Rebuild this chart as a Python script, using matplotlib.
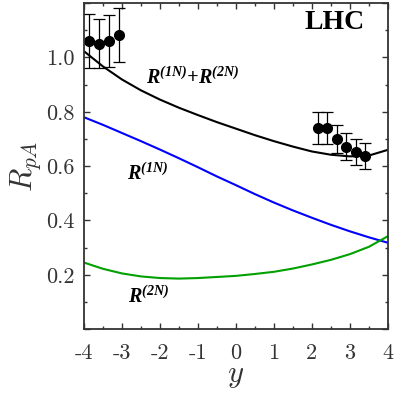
import matplotlib
matplotlib.use("Agg")
import matplotlib.pyplot as plt
from matplotlib.ticker import MultipleLocator, FuncFormatter

plt.rcParams['font.family'] = 'serif'
plt.rcParams['font.serif'] = ['cmr10']
plt.rcParams['mathtext.fontset'] = 'custom'
plt.rcParams['mathtext.rm'] = 'cmr10'
plt.rcParams['mathtext.it'] = 'cmmi10'
plt.rcParams['mathtext.bf'] = 'Liberation Serif:bold:italic'
plt.rcParams['axes.unicode_minus'] = False

# rapidity grid
y = [-4, -3.5, -3, -2.5, -2, -1.5, -1, -0.5, 0, 0.5, 1, 1.5, 2, 2.5, 3, 3.5, 4]

r_total = [1.023, 0.967, 0.919, 0.879, 0.845, 0.815, 0.788, 0.762, 0.738,
           0.714, 0.692, 0.672, 0.654, 0.642, 0.636, 0.639, 0.66]
r_1n = [0.78, 0.752, 0.722, 0.692, 0.661, 0.629, 0.596, 0.562, 0.53,
        0.497, 0.466, 0.437, 0.41, 0.384, 0.36, 0.338, 0.318]
r_2n = [0.245, 0.222, 0.205, 0.194, 0.188, 0.186, 0.188, 0.192, 0.196,
        0.203, 0.211, 0.223, 0.238, 0.255, 0.276, 0.303, 0.342]

# data points
data_y = [-3.86, -3.60, -3.34, -3.07, 2.17, 2.41, 2.65, 2.91, 3.16, 3.41]
data_r = [1.06, 1.051, 1.06, 1.083, 0.741, 0.741, 0.70, 0.672, 0.651, 0.638]
data_err = [0.1, 0.09, 0.095, 0.1, 0.058, 0.058, 0.05, 0.05, 0.048, 0.048]

fig = plt.figure(figsize=(3.97, 3.97), dpi=100)
ax = fig.add_axes([0.2116, 0.171, 0.7654, 0.821])

ax.plot(y, r_total, color='black', lw=1.5)
ax.plot(y, r_1n, color='#0000ff', lw=1.5)
ax.plot(y, r_2n, color='#00a000', lw=1.5)
ax.errorbar(data_y, data_r, yerr=data_err, fmt='o', color='black',
            ms=7, elinewidth=0.9, capsize=4, capthick=0.9)

ax.text(-1.14, 0.926, r'$\mathbf{R^{(1N)}{+}R^{(2N)}}$', fontsize=14.5,
        ha='center', va='center')
ax.text(-2.32, 0.574, r'$\mathbf{R^{(1N)}}$', fontsize=14.5, ha='center', va='center')
ax.text(-2.29, 0.122, r'$\mathbf{R^{(2N)}}$', fontsize=14.5, ha='center', va='center')
ax.text(2.6, 1.13, 'LHC', fontsize=20, fontweight='bold',
        family='Liberation Serif', ha='center', va='center')

ax.set_xlim(-4, 4)
ax.set_ylim(0, 1.2)
ax.xaxis.set_major_locator(MultipleLocator(1))
ax.xaxis.set_minor_locator(MultipleLocator(0.5))
ax.yaxis.set_major_locator(MultipleLocator(0.2))
ax.yaxis.set_minor_locator(MultipleLocator(0.1))
ax.xaxis.set_major_formatter(FuncFormatter(lambda v, p: '%d' % round(v)))
ax.yaxis.set_major_formatter(FuncFormatter(lambda v, p: '' if v < 0.1 or v > 1.1 else '%.1f' % v))

ax.tick_params(which='both', direction='in', top=True, right=True,
               labelsize=16, colors='#333333', pad=7)
ax.tick_params(axis='x', which='major', pad=10)
ax.tick_params(which='major', length=4, width=1)
ax.tick_params(which='minor', length=2.5, width=1)
for s in ax.spines.values():
    s.set_color('#333333')
    s.set_linewidth(1.3)

ax.set_xlabel(r'$y$', fontsize=22, color='#333333', labelpad=0)
ax.set_ylabel(r'$R_{pA}$', fontsize=22, color='#333333', labelpad=2)

fig.savefig('out.png', dpi=100)
